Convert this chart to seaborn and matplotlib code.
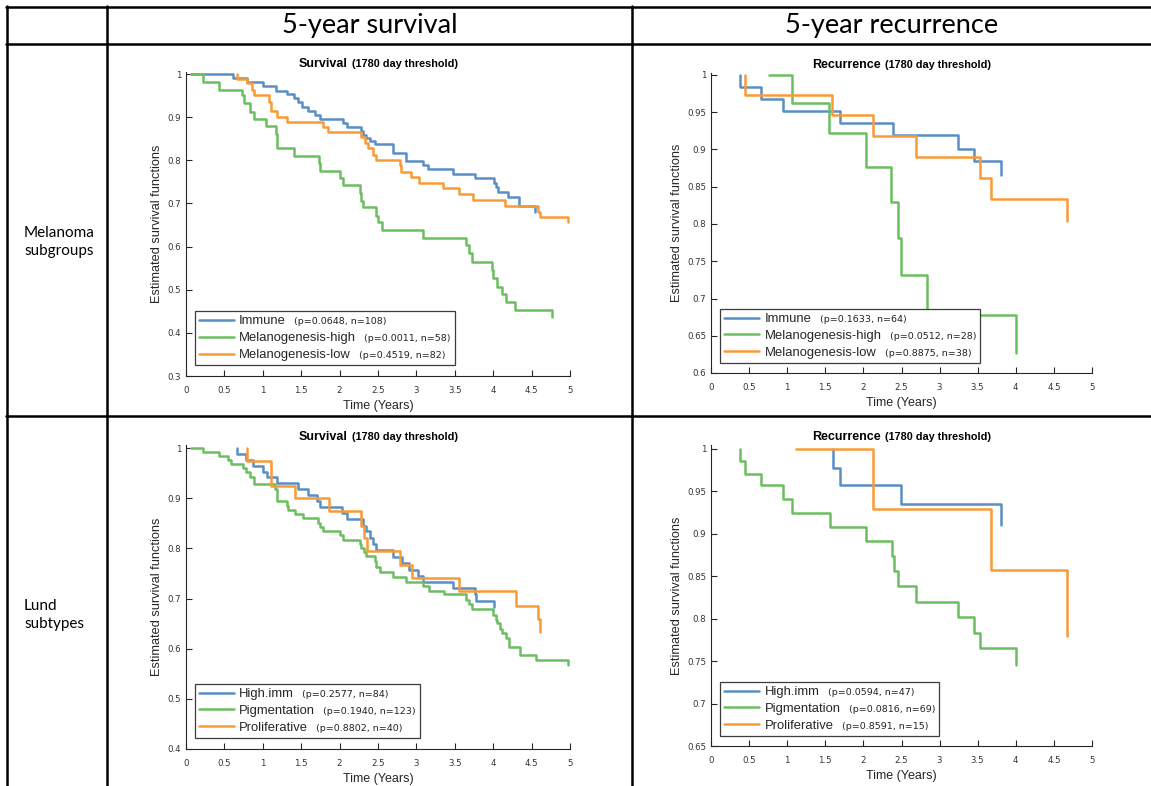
import numpy as np
import pandas as pd
import seaborn as sns
import matplotlib
matplotlib.use("Agg")
import matplotlib.pyplot as plt
from matplotlib.lines import Line2D
from matplotlib.offsetbox import TextArea, HPacker, AnchoredOffsetbox

# ------------------------------------------------------------------ data
col_headers = ["5-year survival", "5-year recurrence"]
row_headers = ["Melanoma\nsubgroups", "Lund\nsubtypes"]
mel_groups = ["Immune", "Melanogenesis-high", "Melanogenesis-low"]
lund_groups = ["High.imm", "Pigmentation", "Proliferative"]

# Melanoma subgroups, survival
ms_imm_t = [0.07, 0.61, 0.79, 1.00, 1.17, 1.31, 1.41, 1.46, 1.51, 1.59, 1.68, 1.74, 2.04, 2.10, 2.28, 2.31,
            2.35, 2.40, 2.46, 2.70, 2.87, 3.08, 3.15, 3.48, 3.76, 4.01, 4.03, 4.06, 4.19, 4.34, 4.55]
ms_imm_s = [1.0, 0.990, 0.981, 0.972, 0.961, 0.954, 0.944, 0.934, 0.924, 0.914, 0.905, 0.896, 0.887, 0.876,
            0.868, 0.859, 0.851, 0.845, 0.837, 0.818, 0.798, 0.789, 0.779, 0.768, 0.758, 0.748, 0.739, 0.727,
            0.716, 0.695, 0.681]
ms_high_t = [0.07, 0.22, 0.43, 0.73, 0.76, 0.83, 0.89, 1.04, 1.17, 1.18, 1.41, 1.73, 1.74, 2.00, 2.04, 2.26,
             2.28, 2.31, 2.47, 2.50, 2.55, 3.08, 3.65, 3.69, 3.72, 3.98, 4.00, 4.05, 4.11, 4.17, 4.29, 4.76]
ms_high_s = [1.0, 0.982, 0.964, 0.951, 0.932, 0.913, 0.896, 0.879, 0.861, 0.828, 0.810, 0.793, 0.776, 0.758,
             0.743, 0.725, 0.706, 0.691, 0.672, 0.656, 0.638, 0.621, 0.604, 0.584, 0.565, 0.546, 0.526, 0.507,
             0.490, 0.471, 0.453, 0.437]
ms_low_t = [0.66, 0.67, 0.79, 0.86, 0.89, 1.08, 1.11, 1.18, 1.31, 1.78, 1.85, 2.28, 2.33, 2.37, 2.43, 2.47,
            2.78, 2.80, 2.93, 3.03, 3.35, 3.55, 3.74, 4.15, 4.58, 4.61, 4.97]
ms_low_s = [1.0, 0.989, 0.978, 0.963, 0.951, 0.936, 0.914, 0.901, 0.889, 0.878, 0.866, 0.853, 0.841, 0.828,
            0.812, 0.801, 0.789, 0.774, 0.762, 0.748, 0.735, 0.722, 0.708, 0.694, 0.681, 0.668, 0.658]
ms_ptext = ["(p=0.0648, n=108)", "(p=0.0011, n=58)", "(p=0.4519, n=82)"]

# Melanoma subgroups, recurrence
mr_imm_t = [0.38, 0.38, 0.65, 0.94, 1.69, 2.39, 3.24, 3.45, 3.81]
mr_imm_s = [1.0, 0.984, 0.968, 0.952, 0.936, 0.919, 0.901, 0.884, 0.866]
mr_high_t = [0.76, 1.06, 1.55, 2.03, 2.36, 2.45, 2.49, 2.83, 4.00]
mr_high_s = [1.0, 0.962, 0.922, 0.876, 0.829, 0.781, 0.732, 0.678, 0.627]
mr_low_t = [0.45, 0.45, 1.59, 2.12, 2.69, 3.53, 3.67, 4.67]
mr_low_s = [1.0, 0.973, 0.946, 0.918, 0.890, 0.862, 0.833, 0.804]
mr_ptext = ["(p=0.1633, n=64)", "(p=0.0512, n=28)", "(p=0.8875, n=38)"]

# Lund subtypes, survival
ls_imm_t = [0.66, 0.66, 0.78, 0.87, 1.00, 1.05, 1.19, 1.46, 1.59, 1.70, 1.74, 2.03, 2.10, 2.30, 2.35, 2.40,
            2.44, 2.47, 2.70, 2.81, 2.91, 3.02, 3.08, 3.48, 3.76, 3.77, 4.01]
ls_imm_s = [1.0, 0.989, 0.977, 0.965, 0.953, 0.942, 0.931, 0.919, 0.907, 0.895, 0.882, 0.870, 0.858, 0.845,
            0.834, 0.820, 0.809, 0.796, 0.782, 0.770, 0.757, 0.745, 0.733, 0.721, 0.709, 0.695, 0.684]
ls_pig_t = [0.07, 0.22, 0.43, 0.55, 0.59, 0.74, 0.78, 0.83, 0.89, 1.16, 1.18, 1.19, 1.31, 1.33, 1.42, 1.52,
            1.72, 1.74, 1.79, 2.00, 2.05, 2.26, 2.28, 2.32, 2.35, 2.46, 2.47, 2.53, 2.70, 2.87, 3.08, 3.16,
            3.36, 3.65, 3.69, 3.72, 4.00, 4.03, 4.05, 4.09, 4.12, 4.17, 4.20, 4.35, 4.56, 4.98]
ls_pig_s = [1.0, 0.993, 0.985, 0.977, 0.969, 0.960, 0.952, 0.943, 0.928, 0.918, 0.905, 0.894, 0.884, 0.877,
            0.869, 0.860, 0.850, 0.842, 0.834, 0.826, 0.817, 0.808, 0.800, 0.792, 0.784, 0.774, 0.762, 0.752,
            0.742, 0.732, 0.724, 0.714, 0.709, 0.697, 0.689, 0.679, 0.667, 0.657, 0.651, 0.639, 0.631, 0.621,
            0.604, 0.587, 0.578, 0.568]
ls_pro_t = [0.79, 0.79, 1.11, 1.42, 1.86, 2.28, 2.32, 2.36, 2.78, 2.94, 3.56, 4.30, 4.58, 4.61]
ls_pro_s = [1.0, 0.975, 0.925, 0.900, 0.875, 0.844, 0.820, 0.794, 0.767, 0.741, 0.714, 0.686, 0.659, 0.634]
ls_ptext = ["(p=0.2577, n=84)", "(p=0.1940, n=123)", "(p=0.8802, n=40)"]

# Lund subtypes, recurrence
lr_imm_t = [1.60, 1.60, 1.69, 2.49, 3.81]
lr_imm_s = [1.0, 0.978, 0.957, 0.935, 0.910]
lr_pig_t = [0.38, 0.38, 0.45, 0.65, 0.94, 1.06, 1.56, 2.04, 2.38, 2.40, 2.45, 2.69, 3.24, 3.45, 3.53, 4.00]
lr_pig_s = [1.0, 0.986, 0.971, 0.957, 0.941, 0.925, 0.908, 0.891, 0.874, 0.856, 0.839, 0.820, 0.802, 0.783,
            0.765, 0.746]
lr_pro_t = [1.12, 2.12, 3.67, 4.67]
lr_pro_s = [1.0, 0.929, 0.857, 0.780]
lr_ptext = ["(p=0.0594, n=47)", "(p=0.0816, n=69)", "(p=0.8591, n=15)"]

x_ticks = [0, 0.5, 1, 1.5, 2, 2.5, 3, 3.5, 4, 4.5, 5]

# ------------------------------------------------------------------ style
W, H = 1151, 786
sns.set_theme(style="white")
plt.rcParams['font.family'] = ['Liberation Sans', 'DejaVu Sans']
fig = plt.figure(figsize=(W / 100, H / 100), dpi=100)

BLUE, GREEN, ORANGE = "#5a8fc6", "#6cbf61", "#f99b35"
colors = [BLUE, GREEN, ORANGE]
AXC = "#262626"


def fx(px):
    return px / W


def fy(py):
    return 1 - py / H


def make_panel(x0px, x5px, y1px, yminpx, ymin, ystep, ext_px, series, names, ptexts,
               title_word, leg_anchor):
    ppu = (yminpx - y1px) / (1 - ymin)
    ymax = 1 + ext_px / ppu
    top = y1px - ext_px
    ax = fig.add_axes([fx(x0px), fy(yminpx), (x5px - x0px) / W, (yminpx - top) / H])
    frames = []
    for name, (t, s) in zip(names, series):
        frames.append(pd.DataFrame({"time": t, "surv": s, "group": name}))
    df = pd.concat(frames, ignore_index=True)
    sns.lineplot(data=df, x="time", y="surv", hue="group", hue_order=names,
                 palette=dict(zip(names, colors)), estimator=None, sort=False,
                 drawstyle="steps-post", linewidth=1.8, legend=False, ax=ax)
    for ln in ax.get_lines():
        ln.set_clip_on(False)
    ax.set_xlim(0, 5)
    ax.set_ylim(ymin, ymax)
    yt = np.round(np.arange(ymin, 1.0 + 1e-9, ystep), 3)
    ax.set_xticks(x_ticks, ["%g" % v for v in x_ticks], fontfamily="DejaVu Sans")
    ax.set_yticks(yt, ["%g" % v for v in yt], fontfamily="DejaVu Sans")
    ax.tick_params(axis="both", direction="in", length=4, width=0.8, color=AXC,
                   labelsize=6.2, labelcolor="#333333", bottom=True, left=True)
    ax.tick_params(axis="x", pad=7)
    ax.tick_params(axis="y", pad=3.5)
    sns.despine(ax=ax)
    for sp in ("left", "bottom"):
        ax.spines[sp].set_color(AXC)
        ax.spines[sp].set_linewidth(0.8)
    ax.set_xlabel("Time (Years)", fontsize=9, color=AXC, labelpad=4)
    ax.set_ylabel("Estimated survival functions", fontsize=9.2, color=AXC, labelpad=3)

    # title: bold word + smaller bold parenthetical
    tbox = HPacker(children=[
        TextArea(title_word, textprops=dict(fontsize=9, fontweight="bold", color="black")),
        TextArea("(1780 day threshold)", textprops=dict(fontsize=7.8, fontweight="bold", color="black")),
    ], align="baseline", sep=3, pad=0)
    anch = AnchoredOffsetbox(loc="lower center", child=tbox, bbox_to_anchor=(0.5, 1.0),
                             bbox_transform=ax.transAxes, frameon=False, pad=0, borderpad=0.15)
    ax.add_artist(anch)

    # legend
    handles = [Line2D([], [], color=c, lw=1.8) for c in colors]
    leg = ax.legend(handles, names, loc="lower left", bbox_to_anchor=leg_anchor,
                    borderaxespad=0, frameon=True, fancybox=False, framealpha=1,
                    edgecolor="#3c3c3c", prop=dict(family="Liberation Sans", size=9.4),
                    handlelength=2.7, handletextpad=0.4, labelspacing=0.36, borderpad=0.3)
    leg.get_frame().set_linewidth(0.9)
    leg.set_zorder(5)
    rows = []
    for col in leg._legend_handle_box.get_children():
        rows.extend(col.get_children())
    for row, ptxt in zip(rows, ptexts):
        ta = TextArea(" " + ptxt, textprops=dict(fontsize=6.8, family="DejaVu Sans", color="#222222"))
        ta.set_figure(fig)
        row._children.append(ta)
    return ax


make_panel(186, 570, 74, 376, 0.3, 0.1, 2,
           [(ms_imm_t, ms_imm_s), (ms_high_t, ms_high_s), (ms_low_t, ms_low_s)],
           mel_groups, ms_ptext, "Survival", (0.023, 0.036))
make_panel(711, 1092, 75, 373, 0.6, 0.05, 2,
           [(mr_imm_t, mr_imm_s), (mr_high_t, mr_high_s), (mr_low_t, mr_low_s)],
           mel_groups, mr_ptext, "Recurrence", (0.024, 0.034))
make_panel(186, 570, 448, 749, 0.4, 0.1, 3,
           [(ls_imm_t, ls_imm_s), (ls_pig_t, ls_pig_s), (ls_pro_t, ls_pro_s)],
           lund_groups, ls_ptext, "Survival", (0.023, 0.037))
make_panel(711, 1092, 449, 746, 0.65, 0.05, 4,
           [(lr_imm_t, lr_imm_s), (lr_pig_t, lr_pig_s), (lr_pro_t, lr_pro_s)],
           lund_groups, lr_ptext, "Recurrence", (0.024, 0.034))

# ------------------------------------------------------------------ table frame
LW = 1.8
for xv in (7, 107, 632):
    fig.add_artist(Line2D([fx(xv), fx(xv)], [fy(6), fy(786)], color="black", lw=LW,
                          transform=fig.transFigure))
for yv in (7, 44, 416):
    fig.add_artist(Line2D([fx(6), fx(1151)], [fy(yv), fy(yv)], color="black", lw=LW,
                          transform=fig.transFigure))

fig.text(fx(370), fy(26), col_headers[0], ha="center", va="center", fontsize=19.5,
         family="Lato", color="black")
fig.text(fx(892), fy(26), col_headers[1], ha="center", va="center", fontsize=19.5,
         family="Lato", color="black")
fig.text(fx(24), fy(242), row_headers[0], ha="left", va="center", fontsize=11,
         family="Lato", color="black", linespacing=1.3)
fig.text(fx(24), fy(615), row_headers[1], ha="left", va="center", fontsize=11,
         family="Lato", color="black", linespacing=1.3)

fig.savefig("out.png", dpi=100)
